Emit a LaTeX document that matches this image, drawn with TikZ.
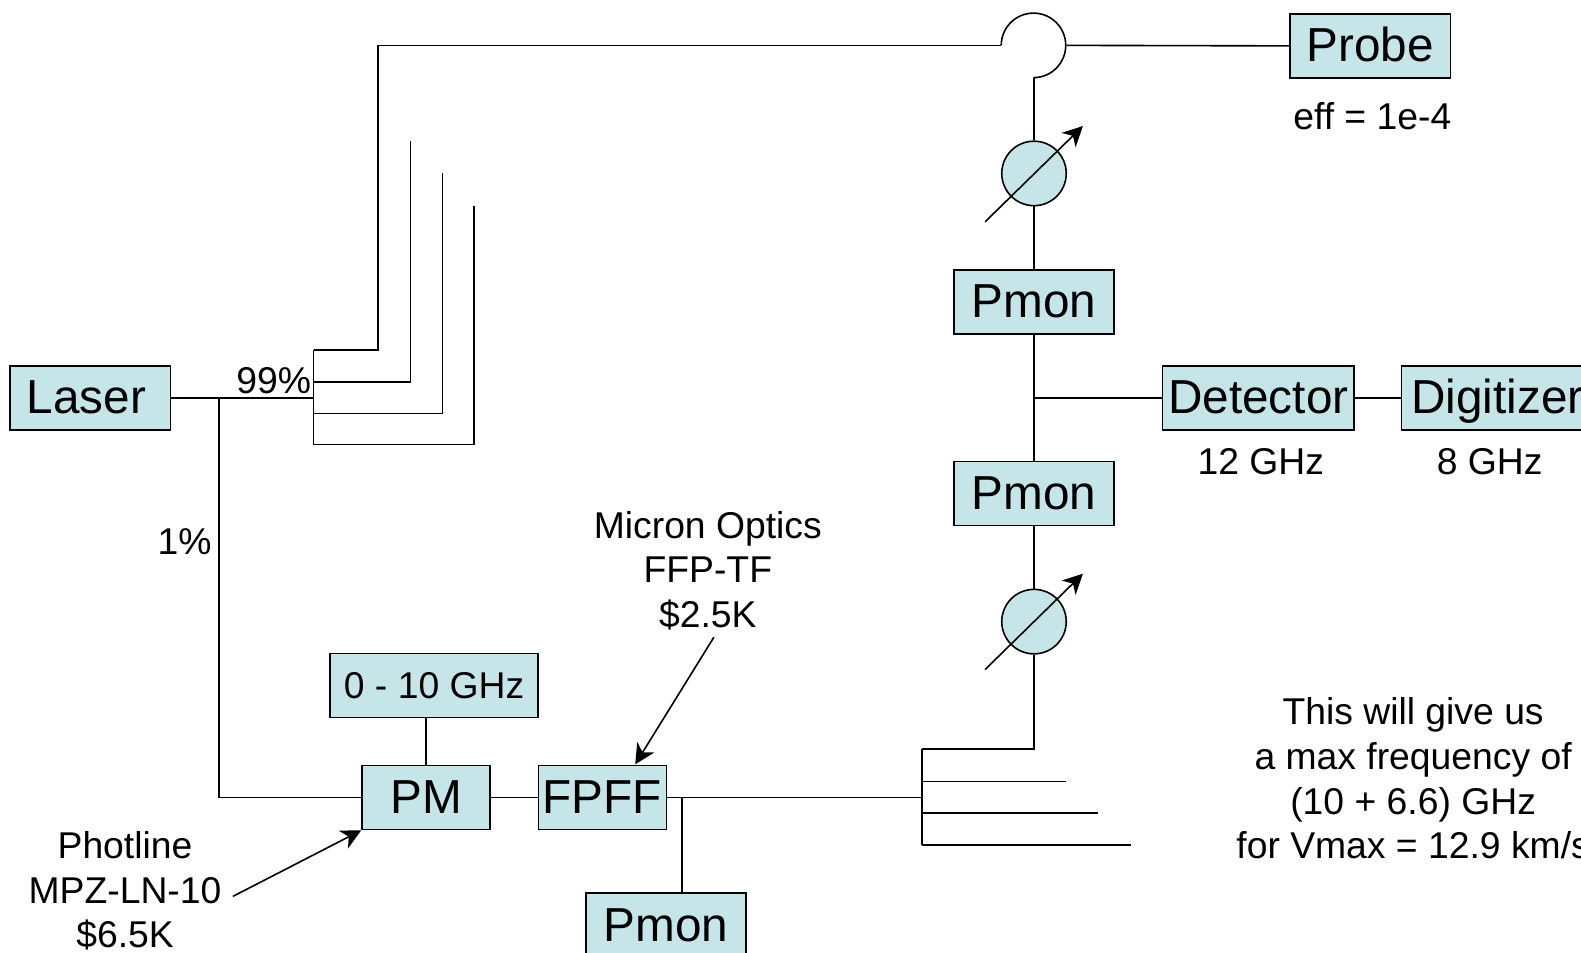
\documentclass[tikz,border=0pt]{standalone}
\usepackage{fontspec}
\setmainfont{Liberation Sans}
\usetikzlibrary{arrows.meta,calc}
\definecolor{boxfill}{HTML}{C6E5E8}
\tikzset{
  wire/.style={draw=black,line width=1.6pt},
  pointer/.style={wire,-{Stealth[length=20pt,width=20pt,inset=6pt]}},
  bigfont/.style={font=\fontsize{47.7}{50}\selectfont,text height=32pt,text depth=0pt},
  smallfont/.style={font=\fontsize{37.3}{44.8}\selectfont,align=center,inner sep=0pt},
  box/.style={draw=black,line width=1.6pt,fill=boxfill,inner sep=0pt,minimum height=64pt},
  widebox/.style={box,bigfont,minimum width=160.3pt},
  attenuator/.style={circle,draw=black,line width=1.6pt,fill=boxfill,inner sep=0pt,minimum size=64.5pt},
  label/.style={smallfont}
}
\begin{document}
\begin{tikzpicture}[x=1.00829pt,y=-1.00829pt]
\useasboundingbox (0,0) rectangle (1568,945);
% boxes
\node[widebox] (probe) at (1359,45.5) {Probe};
\node[widebox] (pmonA) at (1025.5,299.5) {Pmon};
\node[widebox] (pmonB) at (1025.5,489.5) {Pmon};
\node[widebox] (pmonC) at (660.5,917.5) {Pmon};
\node[widebox] (laser) at (89.5,394.5) {Laser\kern7.5pt\relax};
\node[box,bigfont,minimum width=191.5pt] (detector) at (1248,394.5) {Detector};
\node[box,bigfont,minimum width=191.5pt] (digitizer) at (1485,394.5) {Digitizer};
\node[box,bigfont,minimum width=128pt] (pm) at (422.5,791) {PM};
\node[box,bigfont,minimum width=128pt] (fpff) at (597.5,791) {FPFF};
\node[box,font=\fontsize{37.3}{44}\selectfont,minimum width=208pt] (rf) at (430.5,680) {0 - 10 GHz};
\node[attenuator] (attA) at (1025.5,172) {};
\node[attenuator] (attB) at (1025.5,616.5) {};
% circulator
\coordinate (circL) at (993,45);
\coordinate (circB) at (1025.5,77);
\coordinate (circR) at (1057.5,45);
\draw[wire] (circL) arc[start angle=180,end angle=-90,radius=32.25pt];
% first splitter
\coordinate (splitA1) at (311,347);
\coordinate (splitA2) at (311,379);
\coordinate (splitA3) at (311,410);
\coordinate (splitA4) at (311,441);
\coordinate (splitAin) at (311,394.5);
\coordinate (fibA1) at (375,347);
\coordinate (fibA1t) at (375,45);
\coordinate (fibA2) at (407,379);
\coordinate (fibA2t) at (407,140);
\coordinate (fibA3) at (439,410);
\coordinate (fibA3t) at (439,172);
\coordinate (fibA4) at (470,441);
\coordinate (fibA4t) at (470,204);
\coordinate (tap) at (217,394.5);
\coordinate (tapB) at (217,791);
\draw[wire] (splitA1) -- (splitA4);
\draw[wire] (splitA1) -- (fibA1) -- (fibA1t) -- (circL);
\draw[wire] (splitA2) -- (fibA2) -- (fibA2t);
\draw[wire] (splitA3) -- (fibA3) -- (fibA3t);
\draw[wire] (splitA4) -- (fibA4) -- (fibA4t);
\draw[wire] (laser.east) -- (splitAin);
\draw[wire] (tap) -- (tapB) -- (pm.west);
% second splitter
\coordinate (splitB1) at (914.5,743);
\coordinate (splitB2) at (914.5,775);
\coordinate (splitB3) at (914.5,806.5);
\coordinate (splitB4) at (914.5,838);
\coordinate (splitBin) at (914.5,791);
\coordinate (fibB1) at (1025.5,743);
\coordinate (fibB2) at (1057,775);
\coordinate (fibB3) at (1089,806.5);
\coordinate (fibB4) at (1122,838);
\coordinate (tee) at (676.5,791);
\coordinate (teeD) at (1025.5,394.5);
\draw[wire] (splitB1) -- (splitB4);
\draw[wire] (splitB1) -- (fibB1) -- (attB.south);
\draw[wire] (splitB2) -- (fibB2);
\draw[wire] (splitB3) -- (fibB3);
\draw[wire] (splitB4) -- (fibB4);
\draw[wire] (pm.east) -- (fpff.west);
\draw[wire] (fpff.east) -- (splitBin);
\draw[wire] (tee) -- (tee |- pmonC.north);
\draw[wire] (rf.south -| pm.north) -- (pm.north);
\draw[wire] (circB) -- (attA.north);
\draw[wire] (attA.south) -- (pmonA.north);
\draw[wire] (pmonA.south) -- (pmonB.north);
\draw[wire] (pmonB.south) -- (attB.north);
\draw[wire] (teeD) -- (detector.west);
\draw[wire] (detector.east) -- (digitizer.west);
\draw[wire] (circR) -- (probe.west);
% variable arrows
\coordinate (varAa) at (977,220);
\coordinate (varAb) at (1074,125);
\coordinate (varBa) at (977,664);
\coordinate (varBb) at (1074,569);
\draw[pointer] (varAa) -- (varAb);
\draw[pointer] (varBa) -- (varBb);
% labels
\node[label] at (1361,115) {eff = 1e-4};
\node[label] at (1250.5,458) {12 GHz};
\node[label] at (1477.5,458) {8 GHz};
\node[label] at (271.5,378) {99\%};
\node[label] at (183,537) {1\%};
\node[label] (micron) at (702,566) {Micron Optics\\FFP-TF\\\$2.5K};
\node[label] (phot) at (124,883.5) {Photline\\MPZ-LN-10\\\$6.5K};
\node[label] at (1401.5,772) {This will give us\\a max frequency of\\(10 + 6.6) GHz\\for Vmax = 12.9 km/s};
\coordinate (micronEnd) at (708,632);
\coordinate (photEnd) at (231,889);
\draw[pointer] (micronEnd) -- (630,758);
\draw[pointer] (photEnd) -- (pm.south west);
\end{tikzpicture}
\end{document}
